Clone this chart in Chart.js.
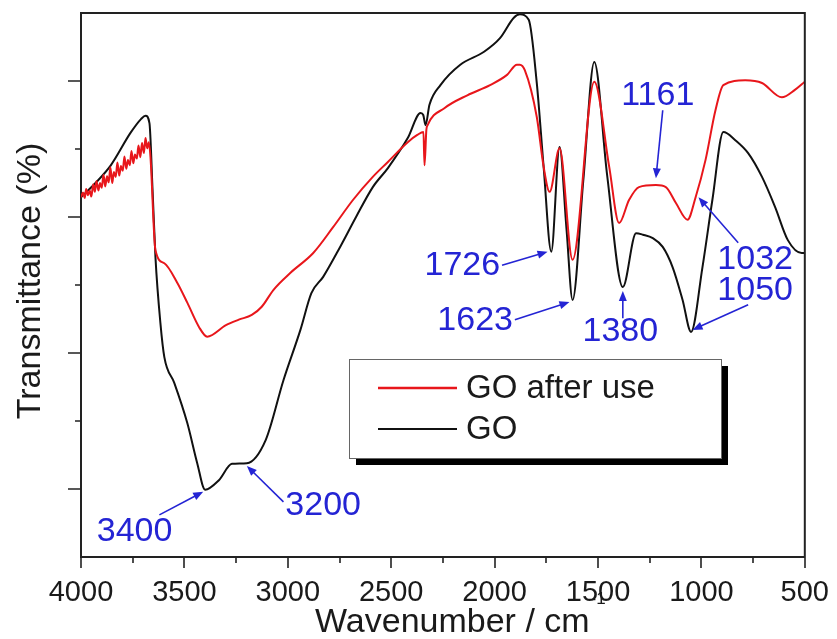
<!DOCTYPE html>
<html>
<head>
<meta charset="utf-8">
<title>FTIR GO</title>
<script src="https://cdn.jsdelivr.net/npm/chart.js@4.4.1/dist/chart.umd.min.js"></script>
<style>
  html, body { margin: 0; padding: 0; background: #fff; }
  #wrap { width: 837px; height: 639px; }
</style>
</head>
<body>
<div id="wrap"><canvas id="ftir" width="837" height="639"></canvas></div>
<script>
// GO after use (red) - wavenumber (cm-1) and transmittance (a.u.)
const usedWavenumber = [
  4000, 3990, 3982, 3975, 3966, 3958, 3950, 3941, 3933, 3925, 3916, 3908, 3900, 3891,
  3883, 3874, 3866, 3858, 3849, 3841, 3832, 3824, 3815, 3807, 3798, 3790, 3781, 3773,
  3764, 3756, 3747, 3739, 3730, 3722, 3713, 3705, 3696, 3688, 3680, 3672, 3664,
  3640, 3597, 3534, 3486, 3429, 3390, 3299, 3237, 3174, 3126, 3069, 2987, 2877, 2781,
  2685, 2589, 2516, 2420, 2372, 2344, 2339, 2330, 2324, 2243, 2132, 2022, 1940, 1892,
  1878, 1854, 1796, 1763, 1734, 1686, 1623, 1518, 1446, 1398, 1350, 1302, 1220, 1172,
  1124, 1067, 1028, 980, 932, 894, 788, 707, 611, 548, 500
];
const usedSignal = [
  52.9, 53.6, 52.8, 54.1, 53.2, 53.9, 53.0, 54.8, 53.7, 55.3, 53.9, 55.0, 54.3, 56.2,
  54.5, 56.0, 55.1, 57.3, 55.0, 56.6, 55.9, 58.0, 56.1, 57.5, 56.8, 58.9, 57.1, 58.4,
  57.6, 59.7, 57.9, 59.2, 58.6, 60.5, 58.8, 60.9, 59.4, 61.6, 60.1, 61.0, 58.8,
  45.1, 43.2, 40.3, 37.4, 33.8, 32.4, 34.1, 34.9, 35.6, 36.8, 39.3, 41.8, 44.7, 48.5,
  52.5, 55.9, 58.1, 61.0, 62.1, 62.5, 57.6, 62.8, 63.5, 66.0, 67.9, 69.4, 70.9, 72.4,
  72.4, 71.6, 64.7, 57.4, 53.7, 60.1, 43.7, 69.9, 57.4, 49.1, 52.5, 54.4, 54.7, 54.4,
  52.1, 49.6, 52.9, 58.4, 65.7, 69.4, 70.1, 69.7, 67.6, 68.7, 69.9
];

// GO (black)
const goWavenumber = [
  4000, 3930, 3856, 3760, 3710, 3688, 3669, 3654, 3640, 3616, 3597, 3549, 3486, 3438,
  3400, 3333, 3270, 3198, 3107, 3021, 2939, 2886, 2829, 2747, 2670, 2589, 2516, 2420,
  2358, 2345, 2334, 2315, 2262, 2166, 2051, 1974, 1907, 1878, 1835, 1796, 1763, 1726,
  1686, 1652, 1623, 1571, 1518, 1456, 1380, 1316, 1283, 1235, 1187, 1139, 1091, 1050,
  995, 947, 894, 836, 774, 707, 644, 582, 515, 500
];
const goSignal = [
  52.9, 55.0, 57.6, 62.4, 64.4, 64.9, 63.8, 54.0, 44.1, 34.4, 29.4, 25.6, 19.7, 13.8,
  9.9, 11.3, 13.7, 13.8, 17.2, 26.0, 33.4, 38.8, 41.2, 45.6, 50.0, 54.4, 57.2, 61.6,
  65.3, 65.0, 63.5, 66.5, 69.4, 72.4, 74.3, 76.3, 79.3, 79.8, 79.0, 69.7, 57.4, 44.9,
  60.3, 48.1, 37.8, 55.4, 72.8, 56.2, 39.7, 47.6, 47.4, 46.9, 45.6, 42.6, 37.8, 33.1,
  42.6, 52.5, 62.5, 61.3, 59.4, 55.9, 51.5, 46.6, 44.7, 44.7
];

const seriesNames = ['GO after use', 'GO'];
const xTickValues = [4000, 3500, 3000, 2500, 2000, 1500, 1000, 500];
const peakLabels = ['3400', '3200', '1726', '1623', '1380', '1161', '1032', '1050'];

// label placement in data units: text centre, arrow tail, arrow head
const peakLayout = [
  { text: [3741, 3.8], from: [3621, 6.2], to: [3409, 9.6] },
  { text: [2829, 7.6], from: [3021, 8.1], to: [3198, 13.4] },
  { text: [2156, 42.9], from: [1964, 42.9], to: [1744, 44.9] },
  { text: [2094, 34.7], from: [1902, 34.9], to: [1638, 37.5] },
  { text: [1392, 33.2], from: [1380, 35.1], to: [1380, 39.1] },
  { text: [1211, 67.8], from: [1187, 65.7], to: [1220, 55.7] },
  { text: [740, 43.7], from: [822, 46.2], to: [1014, 52.9] },
  { text: [740, 39.1], from: [774, 37.1], to: [1043, 33.4] },
];

const FONT = '"Liberation Sans", Arial, sans-serif';
const BLUE = '#2424d4';
const AXIS = '#222';

const zip = (xs, ys) => xs.map((x, i) => ({ x, y: ys[i] }));

const decor = {
  id: 'decor',
  afterDraw(chart) {
    const { ctx, chartArea: a, scales: { x, y } } = chart;
    ctx.save();

    // top and right frame
    ctx.strokeStyle = AXIS;
    ctx.lineWidth = 2;
    ctx.beginPath();
    ctx.moveTo(a.left, a.top);
    ctx.lineTo(a.right, a.top);
    ctx.lineTo(a.right, a.bottom);
    ctx.stroke();

    // tick marks, major and minor
    ctx.lineWidth = 1.6;
    ctx.beginPath();
    for (let v = 500; v <= 4000; v += 250) {
      const px = Math.round(x.getPixelForValue(v));
      const len = v % 500 === 0 ? 11 : 6;
      ctx.moveTo(px, a.bottom);
      ctx.lineTo(px, a.bottom + len);
    }
    for (let v = 10; v <= 70; v += 10) {
      const py = Math.round(y.getPixelForValue(v));
      const len = v % 20 === 10 ? 13 : 6;
      ctx.moveTo(a.left, py);
      ctx.lineTo(a.left - len, py);
    }
    ctx.stroke();

    // axis titles
    ctx.fillStyle = '#1a1a1a';
    ctx.font = `34px ${FONT}`;
    ctx.textBaseline = 'alphabetic';
    ctx.textAlign = 'left';
    const xt = 'Wavenumber / cm';
    ctx.fillText(xt, 315, 632);
    const w = ctx.measureText(xt).width;
    ctx.font = `17px ${FONT}`;
    ctx.fillText('-1', 315 + w + 1, 604);

    ctx.save();
    ctx.translate(40, 281);
    ctx.rotate(-Math.PI / 2);
    ctx.textAlign = 'center';
    ctx.font = `34px ${FONT}`;
    ctx.fillText('Transmittance (%)', 0, 0);
    ctx.restore();

    // peak labels with arrows
    ctx.fillStyle = BLUE;
    ctx.strokeStyle = BLUE;
    ctx.textAlign = 'center';
    ctx.textBaseline = 'middle';
    ctx.font = `34px ${FONT}`;
    peakLabels.forEach((label, i) => {
      const p = peakLayout[i];
      ctx.fillText(label, x.getPixelForValue(p.text[0]), y.getPixelForValue(p.text[1]));
      const x0 = x.getPixelForValue(p.from[0]), y0 = y.getPixelForValue(p.from[1]);
      const x1 = x.getPixelForValue(p.to[0]), y1 = y.getPixelForValue(p.to[1]);
      const ang = Math.atan2(y1 - y0, x1 - x0);
      const hl = 10, hw = 4;
      ctx.lineWidth = 1.6;
      ctx.beginPath();
      ctx.moveTo(x0, y0);
      ctx.lineTo(x1 - Math.cos(ang) * hl * 0.8, y1 - Math.sin(ang) * hl * 0.8);
      ctx.stroke();
      ctx.beginPath();
      ctx.moveTo(x1, y1);
      ctx.lineTo(x1 - Math.cos(ang) * hl - Math.sin(ang) * hw, y1 - Math.sin(ang) * hl + Math.cos(ang) * hw);
      ctx.lineTo(x1 - Math.cos(ang) * hl + Math.sin(ang) * hw, y1 - Math.sin(ang) * hl - Math.cos(ang) * hw);
      ctx.closePath();
      ctx.fill();
    });

    // legend box with drop shadow
    const bx = 349, by = 359, bw = 372, bh = 99, sh = 7;
    ctx.fillStyle = '#000';
    ctx.fillRect(bx + sh, by + sh, bw, bh);
    ctx.fillStyle = '#fff';
    ctx.fillRect(bx, by, bw, bh);
    ctx.strokeStyle = '#666';
    ctx.lineWidth = 1;
    ctx.strokeRect(bx + 0.5, by + 0.5, bw, bh);
    const rows = [388, 429];
    chart.data.datasets.forEach((ds, i) => {
      ctx.strokeStyle = ds.borderColor;
      ctx.lineWidth = i === 0 ? 2.5 : 2;
      ctx.beginPath();
      ctx.moveTo(378, rows[i]);
      ctx.lineTo(457, rows[i]);
      ctx.stroke();
      ctx.fillStyle = '#1a1a1a';
      ctx.textAlign = 'left';
      ctx.font = `33px ${FONT}`;
      ctx.fillText(ds.label, 466, rows[i] + 1);
    });

    ctx.restore();
  },
};

new Chart(document.getElementById('ftir'), {
  type: 'line',
  data: {
    datasets: [
      {
        label: seriesNames[0],
        data: zip(usedWavenumber, usedSignal),
        borderColor: '#e8161b',
        borderWidth: 2,
        pointRadius: 0,
        cubicInterpolationMode: 'monotone',
      },
      {
        label: seriesNames[1],
        data: zip(goWavenumber, goSignal),
        borderColor: '#111111',
        borderWidth: 2,
        pointRadius: 0,
        cubicInterpolationMode: 'monotone',
      },
    ],
  },
  options: {
    responsive: false,
    animation: false,
    layout: { padding: { top: 13, right: 27, left: 0, bottom: 0 } },
    plugins: { legend: { display: false }, tooltip: { enabled: false } },
    scales: {
      x: {
        type: 'linear',
        reverse: true,
        min: 500,
        max: 4000,
        afterBuildTicks: (s) => { s.ticks = xTickValues.map((value) => ({ value })); },
        afterFit: (s) => { s.height = 82; },
        grid: { display: false, drawTicks: true, tickLength: 11 },
        border: { display: true, color: AXIS, width: 2 },
        ticks: {
          callback: (v) => String(v),
          color: '#1a1a1a',
          font: { family: FONT, size: 29 },
          padding: 8,
          maxRotation: 0,
          autoSkip: false,
        },
      },
      y: {
        min: 0,
        max: 80,
        afterFit: (s) => { s.width = 81; },
        grid: { display: false },
        border: { display: true, color: AXIS, width: 2 },
        ticks: { display: false },
      },
    },
  },
  plugins: [decor],
});
</script>
</body>
</html>
